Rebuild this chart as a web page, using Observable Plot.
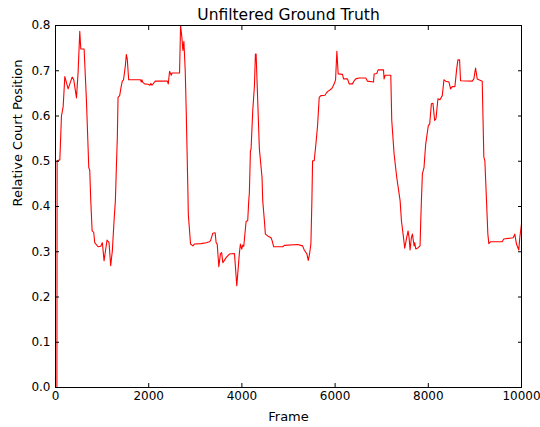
<!DOCTYPE html>
<html>
<head>
<meta charset="utf-8">
<script src="https://cdn.jsdelivr.net/npm/d3@7"></script>
<script src="https://cdn.jsdelivr.net/npm/@observablehq/plot@0.6"></script>
<style>
  html, body { margin: 0; padding: 0; background: #fff; }
  #chart svg { display: block; }
</style>
</head>
<body>
<div id="chart"></div>
<script>
// Frame index of each sample
const frames = [
  0, 30, 35, 93, 128, 164, 200, 271, 357, 392, 450, 485, 521, 543, 614, 664, 714, 735, 757, 786,
  820, 842, 914, 970, 1006, 1042, 1106, 1149, 1184, 1220, 1256, 1285, 1306, 1327, 1342, 1377, 1413, 1434, 1460, 1499,
  1520, 1541, 1570, 1827, 1840, 1856, 1870, 1913, 1984, 2027, 2045, 2070, 2141, 2398, 2420, 2448, 2484, 2500, 2662, 2684,
  2712, 2734, 2755, 2784, 2805, 2841, 2850, 2898, 2948, 2980, 3126, 3233, 3304, 3330, 3376, 3426, 3447, 3470, 3505, 3540,
  3565, 3590, 3625, 3661, 3732, 3840, 3855, 3890, 3910, 3947, 3968, 3997, 4019, 4040, 4068, 4090, 4125, 4147, 4160, 4183,
  4197, 4233, 4269, 4290, 4305, 4375, 4432, 4447, 4483, 4504, 4554, 4625, 4650, 4682, 4875, 4911, 5196, 5303, 5338, 5395,
  5424, 5452, 5481, 5502, 5517, 5552, 5588, 5624, 5659, 5695, 5781, 5820, 5852, 5895, 5931, 5981, 6010, 6038, 6066, 6159,
  6181, 6266, 6302, 6373, 6410, 6445, 6516, 6659, 6695, 6824, 6838, 6895, 6923, 7038, 7052, 7073, 7195, 7216, 7266, 7323,
  7395, 7424, 7459, 7494, 7530, 7566, 7588, 7609, 7637, 7659, 7695, 7709, 7731, 7781, 7823, 7838, 7852, 7873, 7908, 7944,
  8001, 8030, 8066, 8100, 8136, 8165, 8207, 8250, 8300, 8336, 8372, 8443, 8478, 8514, 8571, 8607, 8635, 8671, 8692, 8943,
  8978, 9014, 9050, 9086, 9157, 9192, 9214, 9249, 9278, 9299, 9335, 9585, 9620, 9821, 9856, 9892, 9942, 9963, 10000
];

// Relative court position at each frame
const positions = [
  0.0, 0.0, 0.501, 0.503, 0.60, 0.62, 0.687, 0.66, 0.686, 0.68, 0.64, 0.697, 0.787, 0.748, 0.748, 0.634, 0.486, 0.48, 0.413, 0.346,
  0.343, 0.32, 0.311, 0.312, 0.32, 0.28, 0.326, 0.32, 0.269, 0.302, 0.368, 0.413, 0.486, 0.553, 0.641, 0.645, 0.667, 0.677, 0.68, 0.711,
  0.736, 0.725, 0.68, 0.68, 0.675, 0.68, 0.675, 0.671, 0.67, 0.668, 0.672, 0.668, 0.677, 0.677, 0.671, 0.699, 0.69, 0.695, 0.695, 0.8,
  0.774, 0.745, 0.765, 0.70, 0.612, 0.435, 0.383, 0.317, 0.313, 0.317, 0.318, 0.32, 0.322, 0.325, 0.341, 0.342, 0.32, 0.317, 0.267, 0.296,
  0.298, 0.276, 0.281, 0.287, 0.295, 0.296, 0.276, 0.225, 0.25, 0.298, 0.317, 0.306, 0.315, 0.312, 0.343, 0.367, 0.369, 0.413, 0.43, 0.523,
  0.527, 0.612, 0.667, 0.737, 0.737, 0.527, 0.464, 0.413, 0.368, 0.339, 0.335, 0.331, 0.324, 0.311, 0.311, 0.314, 0.316, 0.313, 0.304, 0.295,
  0.281, 0.295, 0.318, 0.413, 0.501, 0.501, 0.538, 0.579, 0.641, 0.645, 0.646, 0.652, 0.655, 0.658, 0.661, 0.671, 0.68, 0.743, 0.693, 0.692,
  0.682, 0.682, 0.671, 0.671, 0.678, 0.682, 0.684, 0.684, 0.677, 0.675, 0.693, 0.694, 0.702, 0.702, 0.682, 0.69, 0.69, 0.59, 0.516, 0.464,
  0.413, 0.368, 0.339, 0.308, 0.328, 0.346, 0.331, 0.304, 0.331, 0.339, 0.313, 0.32, 0.306, 0.309, 0.313, 0.368, 0.413, 0.472, 0.486, 0.538,
  0.579, 0.582, 0.627, 0.628, 0.59, 0.594, 0.638, 0.636, 0.645, 0.68, 0.677, 0.675, 0.66, 0.665, 0.665, 0.702, 0.724, 0.724, 0.678, 0.677,
  0.682, 0.706, 0.682, 0.68, 0.677, 0.509, 0.501, 0.413, 0.339, 0.318, 0.322, 0.322, 0.328, 0.331, 0.339, 0.317, 0.304, 0.331, 0.361
];

const xTicks = [0, 2000, 4000, 6000, 8000, 10000];
const yTicks = [0.0, 0.1, 0.2, 0.3, 0.4, 0.5, 0.6, 0.7, 0.8];

const title = "Unfiltered Ground Truth";
const xLabel = "Frame";
const yLabel = "Relative Court Position";

const data = frames.map((f, i) => ({frame: f, pos: positions[i]}));

const font = "'DejaVu Sans', sans-serif";

const chart = Plot.plot({
  width: 540,
  height: 427,
  marginLeft: 55,
  marginRight: 19,
  marginTop: 25,
  marginBottom: 40,
  style: {fontFamily: font, fontSize: "12px", color: "#000", background: "#fff"},
  x: {domain: [0, 10000]},
  y: {domain: [0, 0.8]},
  marks: [
    Plot.line(data, {x: "frame", y: "pos", stroke: "#ff0000", strokeWidth: 1.1}),
    Plot.frame({stroke: "#000", strokeWidth: 1}),
    // tick labels, ticks pointing inward
    Plot.axisX({anchor: "bottom", ticks: xTicks, tickFormat: d3.format("d"), tickSize: -4, tickPadding: 8, label: null, fontSize: 12}),
    Plot.axisX({anchor: "top", ticks: xTicks, tickFormat: () => "", tickSize: -4, label: null}),
    Plot.axisY({anchor: "left", ticks: yTicks, tickFormat: d3.format(".1f"), tickSize: -4, tickPadding: 9, label: null, fontSize: 12}),
    Plot.axisY({anchor: "right", ticks: yTicks, tickFormat: () => "", tickSize: -4, label: null}),
    // axis titles
    Plot.text([xLabel], {frameAnchor: "bottom", lineAnchor: "middle", dy: 29, fontSize: 13, fill: "#000"}),
    Plot.text([yLabel], {frameAnchor: "left", dx: -38, rotate: -90, fontSize: 13, fill: "#000"}),
    // chart title
    Plot.text([title], {frameAnchor: "top", lineAnchor: "middle", dy: -10, fontSize: 15.5, fill: "#000"})
  ]
});

document.getElementById("chart").append(chart);
</script>
</body>
</html>
